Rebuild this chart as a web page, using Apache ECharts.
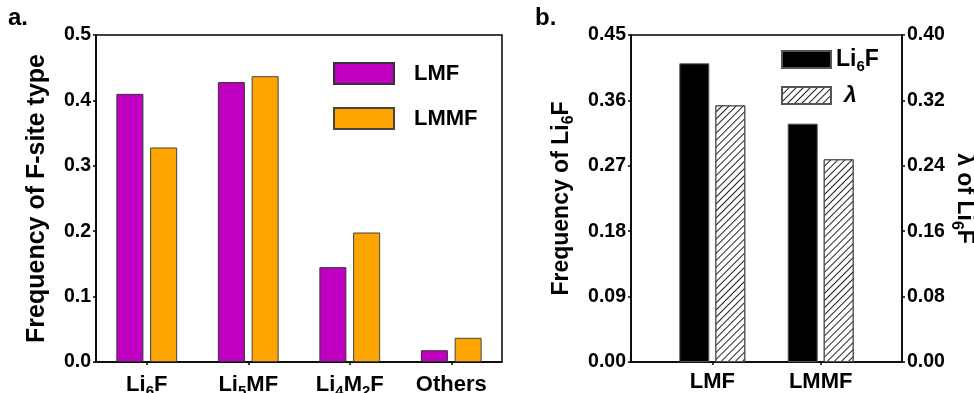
<!DOCTYPE html>
<html><head><meta charset="utf-8">
<script src="https://cdn.jsdelivr.net/npm/echarts@6/dist/echarts.min.js"></script>
<style>html,body{margin:0;padding:0;background:#fff}#c{width:974px;height:393px}</style>
</head><body><div id="c"></div>
<script>
// ---- data (panel a) ----
const siteTypes = ['Li₆F', 'Li₅MF', 'Li₄M₂F', 'Others'];
const lmfFreq   = [0.410, 0.428, 0.145, 0.018];
const lmmfFreq  = [0.328, 0.437, 0.198, 0.037];
const leftAxisA = { min: 0, max: 0.5, interval: 0.1 };
// ---- data (panel b) ----
const systems    = ['LMF', 'LMMF'];
const li6fFreq   = [0.411, 0.328];
const lambdaLi6F = [0.314, 0.248];
const leftAxisB  = { min: 0, max: 0.45, interval: 0.09 };
const rightAxisB = { min: 0, max: 0.40, interval: 0.08 };

const FONT = "'Liberation Sans', Arial, sans-serif";
const SUB = '₀₁₂₃₄₅₆₇₈₉';
function richText(s, b, sub) {
  b = b || 'b'; sub = sub || 's';
  let out = '', buf = '';
  for (const ch of s) {
    const i = SUB.indexOf(ch);
    if (i >= 0) { if (buf) out += '{' + b + '|' + buf + '}'; buf = ''; out += '{' + sub + '|' + i + '}'; }
    else buf += ch;
  }
  if (buf) out += '{' + b + '|' + buf + '}';
  return out;
}

// panel b uses 5 slots so the two groups sit where the original places them
const slotsB = ['', systems[0], '', systems[1], ''];
const toSlots = arr => [null, arr[0], null, arr[1], null];

const axLine = { show: true, onZero: false, lineStyle: { color: '#000', width: 1.5 } };
const axTick = { show: true, length: 3, inside: false, lineStyle: { color: '#000', width: 1.5 } };
const tickLabel = { fontFamily: FONT, fontWeight: 'bold', fontSize: 19.5, color: '#000', margin: 5 };

const hatch = {
  symbol: 'rect', symbolSize: 1, color: '#222',
  dashArrayX: [1, 0], dashArrayY: [1, 4], rotation: -Math.PI / 4
};

const option = {
  animation: false,
  backgroundColor: '#fff',
  graphic: [
    { type: 'text', left: 8, top: 6, style: { text: 'a.', font: "bold 24px 'Liberation Sans', Arial", fill: '#000' } },
    { type: 'text', left: 535, top: 6, style: { text: 'b.', font: "bold 24px 'Liberation Sans', Arial", fill: '#000' } }
  ],
  grid: [
    { left: 96, top: 35, width: 406, height: 327, show: true, borderColor: '#000', borderWidth: 1.5,
      containLabel: false, outerBoundsMode: 'none' },
    { left: 631, top: 35, width: 271, height: 327, show: true, borderColor: '#000', borderWidth: 1.5,
      containLabel: false, outerBoundsMode: 'none' }
  ],
  legend: [
    {
      orient: 'vertical', left: 333, top: 62, padding: 0, itemWidth: 60, itemHeight: 21, itemGap: 22,
      icon: 'rect',
      data: ['LMF', 'LMMF'],
      textStyle: { fontFamily: FONT, fontWeight: 'bold', fontSize: 22, color: '#000', padding: [0, 0, 0, 15] }
    },
    {
      orient: 'vertical', left: 781, top: 48, padding: 0, itemWidth: 49, itemHeight: 17, itemGap: 10,
      icon: 'rect',
      data: ['Li₆F', 'λ'],
      formatter: n => n === 'λ' ? '{l|λ}' : richText(n),
      textStyle: {
        fontFamily: FONT, fontWeight: 'bold', fontSize: 22, color: '#000',
        rich: {
          b: { fontFamily: FONT, fontWeight: 'bold', fontSize: 23, color: '#000' },
          s: { fontFamily: FONT, fontWeight: 'bold', fontSize: 15, color: '#000', padding: [14, 0, 0, 0] },
          l: { fontFamily: FONT, fontWeight: 'bold', fontStyle: 'italic', fontSize: 23, color: '#000', padding: [0, 0, 0, 8] }
        }
      }
    }
  ],
  xAxis: [
    {
      type: 'category', gridIndex: 0, data: siteTypes,
      axisLine: axLine, axisTick: Object.assign({ alignWithLabel: true }, axTick),
      axisLabel: {
        margin: 8, interval: 0,
        formatter: v => richText(v),
        rich: {
          b: { fontFamily: FONT, fontWeight: 'bold', fontSize: 22, color: '#000', lineHeight: 29 },
          s: { fontFamily: FONT, fontWeight: 'bold', fontSize: 15, color: '#000', padding: [14, 0, 0, 0] }
        }
      }
    },
    {
      type: 'category', gridIndex: 1, data: slotsB,
      axisLine: axLine,
      axisTick: Object.assign({ alignWithLabel: true, interval: i => slotsB[i] !== '' }, axTick),
      axisLabel: { margin: 9, interval: 0, fontFamily: FONT, fontWeight: 'bold', fontSize: 22, color: '#000' }
    }
  ],
  yAxis: [
    Object.assign({
      type: 'value', gridIndex: 0,
      name: 'Frequency of F-site type', nameLocation: 'middle', nameGap: 46,
      nameTextStyle: { fontFamily: FONT, fontWeight: 'bold', fontSize: 25, color: '#000' },
      axisLine: axLine, axisTick: axTick, splitLine: { show: false },
      axisLabel: Object.assign({ formatter: v => v.toFixed(1) }, tickLabel)
    }, leftAxisA),
    Object.assign({
      type: 'value', gridIndex: 1, position: 'left',
      name: richText('Frequency of Li₆F'), nameLocation: 'middle', nameGap: 54,
      nameTextStyle: {
        rich: {
          b: { fontFamily: FONT, fontWeight: 'bold', fontSize: 23, color: '#000' },
          s: { fontFamily: FONT, fontWeight: 'bold', fontSize: 16, color: '#000', padding: [14, 0, 0, 0] }
        }
      },
      axisLine: axLine, axisTick: axTick, splitLine: { show: false },
      axisLabel: Object.assign({ formatter: v => v.toFixed(2) }, tickLabel)
    }, leftAxisB),
    Object.assign({
      type: 'value', gridIndex: 1, position: 'right',
      name: richText('λ of Li₆F'), nameLocation: 'middle', nameGap: 46, nameRotate: -90,
      nameTextStyle: {
        rich: {
          b: { fontFamily: FONT, fontWeight: 'bold', fontSize: 23, color: '#000' },
          s: { fontFamily: FONT, fontWeight: 'bold', fontSize: 16, color: '#000', padding: [14, 0, 0, 0] }
        }
      },
      axisLine: axLine, axisTick: axTick, splitLine: { show: false },
      axisLabel: Object.assign({ formatter: v => v.toFixed(2) }, tickLabel)
    }, rightAxisB)
  ],
  series: [
    { name: 'LMF', type: 'bar', xAxisIndex: 0, yAxisIndex: 0, data: lmfFreq, barWidth: 27, barGap: '25%',
      itemStyle: { color: '#C000C0', borderColor: '#333', borderWidth: 1 } },
    { name: 'LMMF', type: 'bar', xAxisIndex: 0, yAxisIndex: 0, data: lmmfFreq, barWidth: 27, barGap: '25%',
      itemStyle: { color: '#FFA500', borderColor: '#444', borderWidth: 1 } },
    { name: 'Li₆F', type: 'bar', xAxisIndex: 1, yAxisIndex: 1, data: toSlots(li6fFreq), barWidth: 30, barGap: '20%',
      itemStyle: { color: '#000', borderColor: '#555', borderWidth: 1 } },
    { name: 'λ', type: 'bar', xAxisIndex: 1, yAxisIndex: 2, data: toSlots(lambdaLi6F), barWidth: 30, barGap: '20%',
      itemStyle: { color: '#fff', borderColor: '#555', borderWidth: 1, decal: hatch } }
  ]
};
const chart = echarts.init(document.getElementById('c'), null, { renderer: 'canvas' });
chart.setOption(option);
</script></body></html>
